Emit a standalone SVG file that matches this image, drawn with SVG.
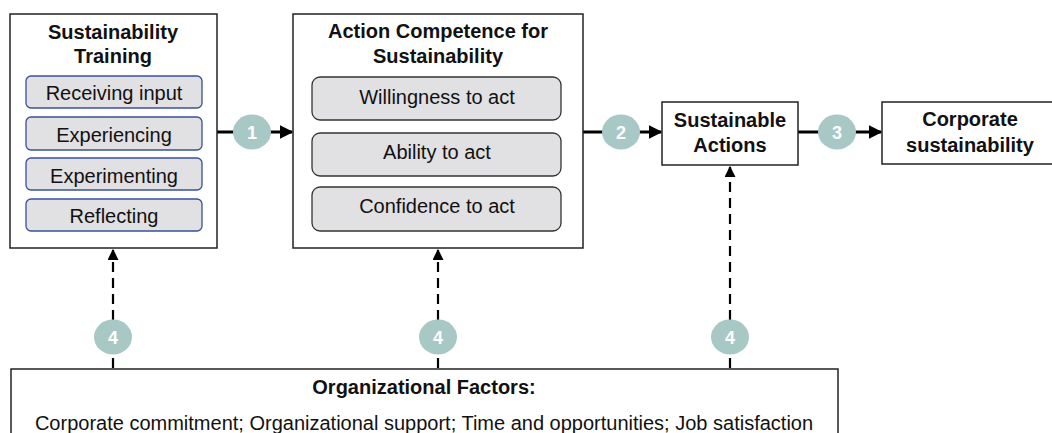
<svg xmlns="http://www.w3.org/2000/svg" width="1052" height="433" viewBox="0 0 1052 433">
<defs>
<marker id="ah" viewBox="0 0 10 10" refX="9" refY="5" markerWidth="4.5" markerHeight="4.5" orient="auto" markerUnits="strokeWidth">
<path d="M0,0 L10,5 L0,10 z" fill="#000"/>
</marker>
<marker id="ahs" viewBox="0 0 10 10" refX="9" refY="5" markerWidth="5" markerHeight="5" orient="auto" markerUnits="strokeWidth">
<path d="M0,0 L10,5 L0,10 z" fill="#000"/>
</marker>
</defs>
<style>
.box{fill:#fff;stroke:#222;stroke-width:1.5}
.blue{fill:#e1e0e2;stroke:#3a4f9c;stroke-width:1.3}
.grey{fill:#e1e0e2;stroke:#333;stroke-width:1.3}
.t{font-family:"Liberation Sans",Arial,sans-serif;font-size:20px;fill:#111;text-anchor:middle}
.b{font-weight:bold}
.line{stroke:#000;stroke-width:3;fill:none}
.dash{stroke:#000;stroke-width:2.2;fill:none;stroke-dasharray:10,6}
.c{fill:#a8c8c6}
.n{font-family:"Liberation Sans",Arial,sans-serif;font-size:18px;font-weight:bold;fill:#fff;text-anchor:middle}
</style>
<g id="connectors">
<line class="line" x1="217" y1="132" x2="292" y2="132" marker-end="url(#ah)"/>
<line class="line" x1="583" y1="132" x2="661" y2="132" marker-end="url(#ah)"/>
<line class="line" x1="798" y1="132" x2="881" y2="132" marker-end="url(#ah)"/>
<line class="dash" x1="113" y1="368" x2="113" y2="250" marker-end="url(#ahs)"/>
<line class="dash" x1="438" y1="368" x2="438" y2="250" marker-end="url(#ahs)"/>
<line class="dash" x1="730" y1="368" x2="730" y2="167" marker-end="url(#ahs)"/>
<ellipse class="c" cx="252" cy="132" rx="19" ry="17.5"/><text class="n" x="252" y="138.5">1</text>
<ellipse class="c" cx="621" cy="132" rx="19" ry="17.5"/><text class="n" x="621" y="138.5">2</text>
<ellipse class="c" cx="837" cy="132" rx="19" ry="17.5"/><text class="n" x="837" y="138.5">3</text>
<ellipse class="c" cx="113" cy="337" rx="19" ry="17.5"/><text class="n" x="113" y="343.5">4</text>
<ellipse class="c" cx="438" cy="337" rx="19" ry="17.5"/><text class="n" x="438" y="343.5">4</text>
<ellipse class="c" cx="730" cy="337" rx="19" ry="17.5"/><text class="n" x="730" y="343.5">4</text>
</g>
<g id="training">
<rect class="box" x="10" y="14" width="207" height="234"/>
<text class="t b" x="113" y="39">Sustainability</text>
<text class="t b" x="113" y="63">Training</text>
<rect class="blue" x="26" y="76" width="176" height="32" rx="5"/>
<text class="t" x="114" y="100">Receiving input</text>
<rect class="blue" x="26" y="117" width="176" height="33" rx="5"/>
<text class="t" x="114" y="142">Experiencing</text>
<rect class="blue" x="26" y="158" width="176" height="32" rx="5"/>
<text class="t" x="114" y="183">Experimenting</text>
<rect class="blue" x="26" y="199" width="176" height="32" rx="5"/>
<text class="t" x="114" y="223">Reflecting</text>
</g>
<g id="competence">
<rect class="box" x="293" y="14" width="290" height="234"/>
<text class="t b" x="438" y="38">Action Competence for</text>
<text class="t b" x="438" y="63">Sustainability</text>
<rect class="grey" x="312" y="77" width="249" height="43" rx="8"/>
<text class="t" x="437" y="104">Willingness to act</text>
<rect class="grey" x="312" y="133" width="249" height="43" rx="8"/>
<text class="t" x="437" y="159">Ability to act</text>
<rect class="grey" x="312" y="187" width="249" height="44" rx="8"/>
<text class="t" x="437" y="213">Confidence to act</text>
</g>
<g id="actions">
<rect class="box" x="662" y="102" width="136" height="63"/>
<text class="t b" x="730" y="127">Sustainable</text>
<text class="t b" x="730" y="152">Actions</text>
</g>
<g id="corporate">
<rect class="box" x="882" y="102" width="175" height="62"/>
<text class="t b" x="970" y="126">Corporate</text>
<text class="t b" x="970" y="152">sustainability</text>
</g>
<g id="factors">
<rect class="box" x="11" y="369" width="827" height="80"/>
<text class="t b" x="424" y="394">Organizational Factors:</text>
<text class="t" x="424" y="430">Corporate commitment; Organizational support; Time and opportunities; Job satisfaction</text>
</g>
</svg>
